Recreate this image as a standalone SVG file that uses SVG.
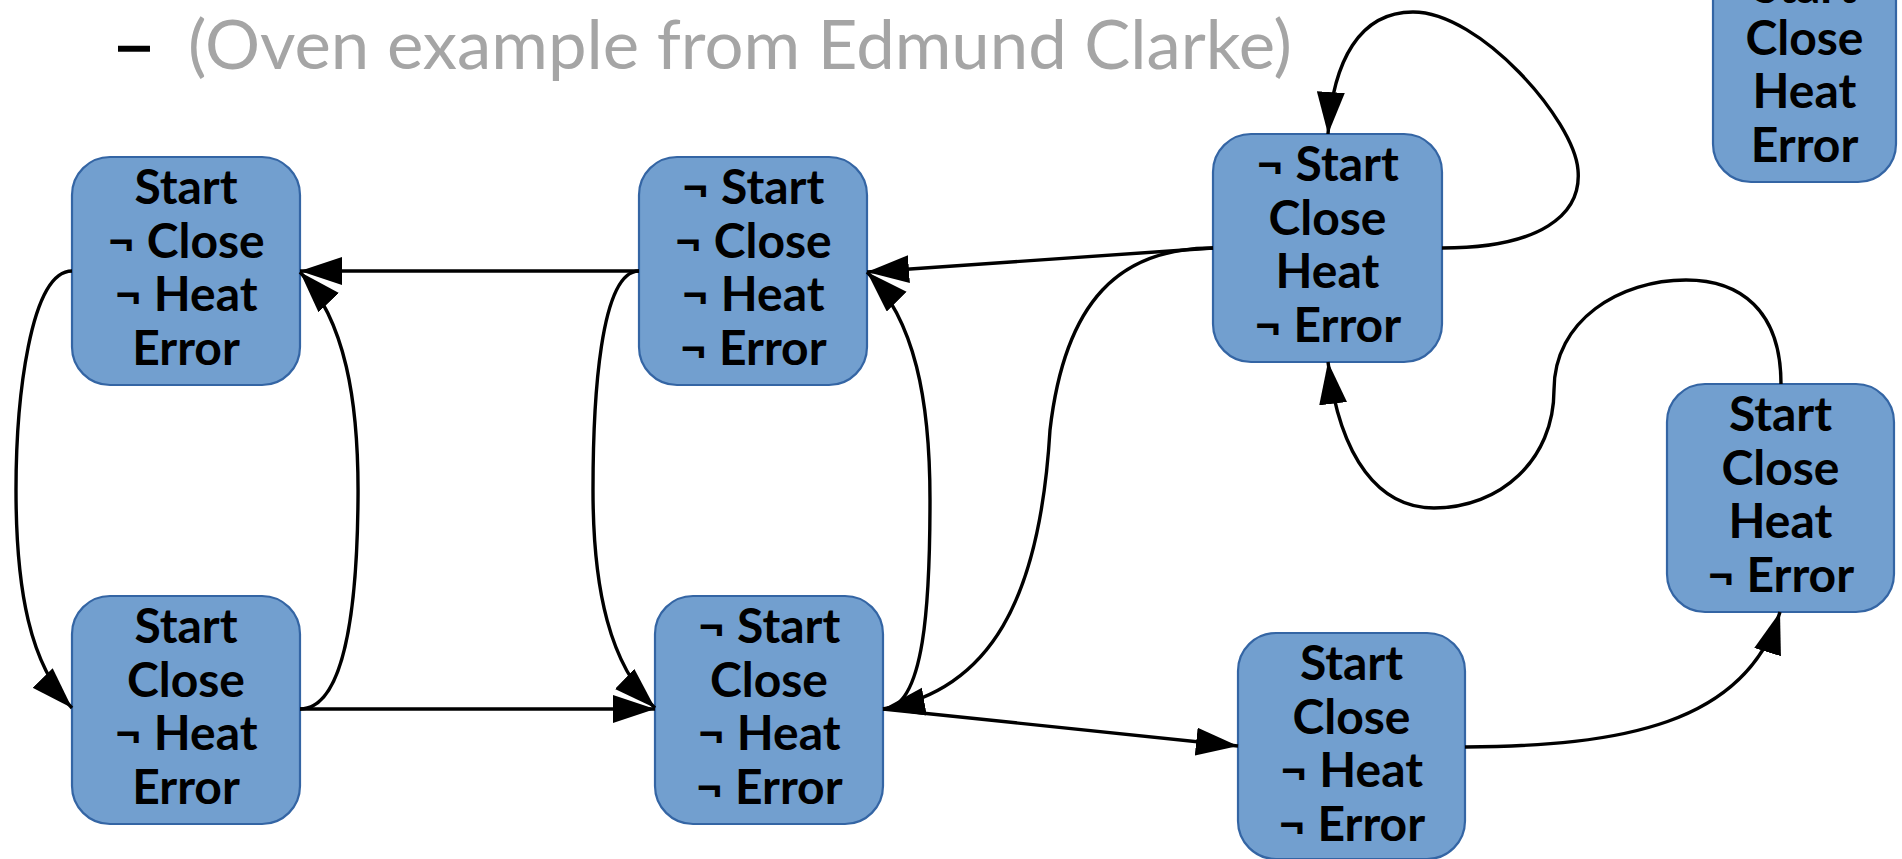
<svg xmlns="http://www.w3.org/2000/svg" width="1902" height="859" viewBox="0 0 1902 859">
  <style>
    .node rect { fill: #729fcf; stroke: #3465a4; stroke-width: 2.2; }
    .node text { font-family: Lato, "Liberation Sans", sans-serif; font-weight: 700; font-size: 48px; fill: #000; text-anchor: middle; }
    .edge { fill: none; stroke: #000; stroke-width: 3.4; marker-end: url(#arrow); }
    .title { font-family: Lato, "Liberation Sans", sans-serif; font-weight: 400; font-size: 68px; }
  </style>
  <defs>
    <marker id="arrow" markerUnits="userSpaceOnUse" markerWidth="44" markerHeight="30" refX="42" refY="14" orient="auto">
      <path d="M0,0 L42,14 L0,28 Z" fill="#000"/>
    </marker>
  </defs>
  <rect width="1902" height="859" fill="#fff"/>

  <g id="title">
    <text class="title" x="112" y="69" fill="#000" stroke="#000" stroke-width="1.5" textLength="44" lengthAdjust="spacingAndGlyphs">–</text>
    <text class="title" x="188" y="69" fill="#a5a5a5" textLength="1104" lengthAdjust="spacingAndGlyphs">(Oven example from Edmund Clarke)</text>
  </g>

  <!-- states: one rounded box each, four literal lines -->
  <g id="s1" class="node">
    <rect x="72" y="157" width="228" height="228" rx="38"/>
    <text x="186" y="204">Start</text>
    <text x="186" y="257.5">¬ Close</text>
    <text x="186" y="311">¬ Heat</text>
    <text x="186" y="364.5">Error</text>
  </g>
  <g id="s2" class="node">
    <rect x="639" y="157" width="228" height="228" rx="38"/>
    <text x="753" y="204">¬ Start</text>
    <text x="753" y="257.5">¬ Close</text>
    <text x="753" y="311">¬ Heat</text>
    <text x="753" y="364.5">¬ Error</text>
  </g>
  <g id="s3" class="node">
    <rect x="1213" y="134" width="229" height="228" rx="38"/>
    <text x="1327.5" y="181">¬ Start</text>
    <text x="1327.5" y="234.5">Close</text>
    <text x="1327.5" y="288">Heat</text>
    <text x="1327.5" y="341.5">¬ Error</text>
  </g>
  <g id="s4" class="node">
    <rect x="1713" y="-46" width="183" height="228" rx="38"/>
    <text x="1804.5" y="3">Start</text>
    <text x="1804.5" y="54.5">Close</text>
    <text x="1804.5" y="108">Heat</text>
    <text x="1804.5" y="161.5">Error</text>
  </g>
  <g id="s5" class="node">
    <rect x="1667" y="384" width="227" height="228" rx="38"/>
    <text x="1780.5" y="431">Start</text>
    <text x="1780.5" y="484.5">Close</text>
    <text x="1780.5" y="538">Heat</text>
    <text x="1780.5" y="591.5">¬ Error</text>
  </g>
  <g id="s6" class="node">
    <rect x="72" y="596" width="228" height="228" rx="38"/>
    <text x="186" y="643">Start</text>
    <text x="186" y="696.5">Close</text>
    <text x="186" y="750">¬ Heat</text>
    <text x="186" y="803.5">Error</text>
  </g>
  <g id="s7" class="node">
    <rect x="655" y="596" width="228" height="228" rx="38"/>
    <text x="769" y="643">¬ Start</text>
    <text x="769" y="696.5">Close</text>
    <text x="769" y="750">¬ Heat</text>
    <text x="769" y="803.5">¬ Error</text>
  </g>
  <g id="s8" class="node">
    <rect x="1238" y="633" width="227" height="226" rx="38"/>
    <text x="1351.5" y="680">Start</text>
    <text x="1351.5" y="733.5">Close</text>
    <text x="1351.5" y="787">¬ Heat</text>
    <text x="1351.5" y="840.5">¬ Error</text>
  </g>

  <!-- transitions -->
  <g id="connectors">
    <path class="edge" d="M639,271 L300,271"/>
    <path class="edge" d="M300,709 C342,709 357,620 358,500 C359,400 345,320 300,272"/>
    <path class="edge" d="M72,271 C30,271 16,400 16,490 C16,590 30,665 72,708"/>
    <path class="edge" d="M300,709 L655,709"/>
    <path class="edge" d="M639,271 C600,271 593,400 593,490 C593,590 610,665 655,708"/>
    <path class="edge" d="M883,709 C925,709 930,600 930,500 C930,400 915,320 867,272"/>
    <path class="edge" d="M1213,248 L867,272"/>
    <path class="edge" d="M1213,248 C1120,248 1065,300 1050,430 C1040,600 990,690 883,709"/>
    <path class="edge" d="M883,709 L1238,746"/>
    <path class="edge" d="M1465,747 C1620,746 1745,725 1780,612"/>
    <path class="edge" d="M1781,384 C1781,310 1740,280 1686,280 C1620,280 1554,320 1554,390 C1554,460 1500,508 1434,508 C1380,508 1340,460 1328,362"/>
    <path class="edge" d="M1442,248 C1540,248 1582,215 1578,170 C1574,120 1480,12 1413,12 C1360,12 1333,60 1328,134"/>
  </g>
</svg>
